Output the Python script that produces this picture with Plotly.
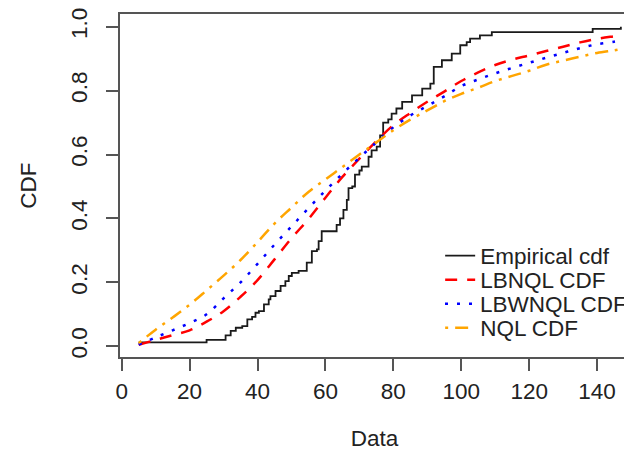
import plotly.graph_objects as go

# Empirical CDF step knots (jump location, level after jump)
ecdf_x = [5.0, 25.0, 30.6, 32.1, 33.6, 35.5, 37.0, 38.4, 39.4, 40.4, 41.9, 43.3, 43.8,
          45.3, 46.8, 48.2, 49.2, 50.1, 52.1, 54.5, 56.0, 57.5, 58.0, 58.9, 63.3, 64.3,
          65.3, 66.3, 66.8, 67.9, 68.7, 70.0, 70.7, 72.7, 73.6, 75.1, 76.1, 77.0, 78.5,
          79.5, 80.9, 82.6, 85.5, 88.5, 90.9, 91.9, 94.3, 97.2, 99.7, 101.6, 102.6,
          105.5, 109.0, 138.7, 147.0]
ecdf_y = [0.0125, 0.02, 0.034, 0.048, 0.058, 0.063, 0.084, 0.092, 0.105, 0.11, 0.131,
          0.147, 0.157, 0.173, 0.189, 0.204, 0.22, 0.23, 0.236, 0.262, 0.298, 0.303,
          0.329, 0.36, 0.38, 0.40, 0.427, 0.458, 0.495, 0.50, 0.537, 0.55, 0.562, 0.593,
          0.613, 0.625, 0.66, 0.70, 0.71, 0.728, 0.744, 0.765, 0.785, 0.806, 0.822,
          0.874, 0.895, 0.916, 0.942, 0.952, 0.9625, 0.973, 0.983, 0.993, 1.0]

# Fitted CDFs evaluated on a grid
grid_x = [5, 10, 15, 20, 25, 30, 35, 40, 45, 50, 55, 60, 65, 70, 75, 80, 85, 90, 95,
          100, 105, 110, 115, 120, 125, 130, 135, 140, 145, 147]
lbnql_cdf = [0.005, 0.02, 0.035, 0.05, 0.077, 0.11, 0.155, 0.207, 0.272, 0.338, 0.398,
             0.465, 0.53, 0.587, 0.642, 0.692, 0.73, 0.765, 0.797, 0.83, 0.857, 0.88,
             0.897, 0.91, 0.924, 0.937, 0.951, 0.962, 0.97, 0.973]
lbwnql_cdf = [0.005, 0.028, 0.05, 0.073, 0.1, 0.15, 0.2, 0.258, 0.318, 0.375, 0.432,
              0.487, 0.54, 0.59, 0.638, 0.685, 0.722, 0.752, 0.782, 0.814, 0.835, 0.854,
              0.871, 0.887, 0.903, 0.918, 0.933, 0.945, 0.953, 0.957]
nql_cdf = [0.01, 0.052, 0.09, 0.13, 0.175, 0.221, 0.27, 0.326, 0.384, 0.434, 0.483,
           0.522, 0.561, 0.60, 0.638, 0.676, 0.709, 0.738, 0.767, 0.79, 0.809, 0.83,
           0.846, 0.862, 0.881, 0.894, 0.906, 0.918, 0.926, 0.93]

x_ticks = [0, 20, 40, 60, 80, 100, 120, 140]
y_ticks = [0.0, 0.2, 0.4, 0.6, 0.8, 1.0]
y_ticktext = ["0.0", "0.2", "0.4", "0.6", "0.8", "1.0"]

FONT = "Liberation Sans, Arial, sans-serif"
FS = 22.5
TXT = "#222222"
AX = "#555555"

# the page body adds an 8px margin, so the figure is drawn 8px in from the corner
W, HT = 624, 443
T, H = 6, 343  # plot top and height in figure px

fig = go.Figure()
fig.add_trace(go.Scatter(x=ecdf_x, y=ecdf_y, mode="lines", line_shape="hv",
                         name="Empirical cdf", legend="legend",
                         line=dict(color="#1a1a1a", width=1.8)))
fig.add_trace(go.Scatter(x=grid_x, y=lbnql_cdf, mode="lines", line_shape="spline",
                         name="LBNQL CDF", legend="legend2",
                         line=dict(color="#ff0000", width=2.5, dash="12px,10px")))
fig.add_trace(go.Scatter(x=grid_x, y=lbwnql_cdf, mode="lines", line_shape="spline",
                         name="LBWNQL CDF", legend="legend3",
                         line=dict(color="#0000ff", width=2.5, dash="3px,9px")))
fig.add_trace(go.Scatter(x=grid_x, y=nql_cdf, mode="lines", line_shape="spline",
                         name="NQL CDF", legend="legend4",
                         line=dict(color="#ffa500", width=2.5, dash="3px,7px,13px,7px")))


def leg(py):
    return dict(x=0.629, y=1 - (py - T) / H, xanchor="left", yanchor="middle",
                bgcolor="rgba(0,0,0,0)", font=dict(size=FS, color=TXT))


fig.update_layout(
    width=W, height=HT,
    margin=dict(l=112, r=0, t=T, b=HT - T - H),
    paper_bgcolor="white", plot_bgcolor="white",
    font=dict(family=FONT, size=FS, color=TXT),
    showlegend=True,
    legend=leg(248), legend2=leg(272), legend3=leg(296), legend4=leg(320),
)
fig.update_xaxes(range=[-0.5, 149.4], tickvals=x_ticks, ticks="outside", ticklen=12,
                 tickwidth=1.5, tickcolor=AX, showline=True, linecolor=AX, linewidth=1.5,
                 mirror=True, showgrid=False, zeroline=False, automargin=False,
                 ticklabelstandoff=1, ticklabeloverflow="allow",
                 tickfont=dict(size=FS, color=TXT),
                 title=dict(text="Data", font=dict(size=FS, color=TXT), standoff=33))
fig.update_yaxes(range=[-0.0335, 1.0397], tickvals=y_ticks, ticktext=y_ticktext,
                 tickangle=-90, ticks="outside", ticklen=12, tickwidth=1.5, tickcolor=AX,
                 showline=True, linecolor=AX, linewidth=1.5, mirror=False,
                 showgrid=False, zeroline=False, automargin=False,
                 ticklabelstandoff=10, ticklabeloverflow="allow",
                 tickfont=dict(size=FS, color=TXT),
                 title=dict(text="CDF", font=dict(size=FS, color=TXT), standoff=24))

fig.write_html("out.html")
